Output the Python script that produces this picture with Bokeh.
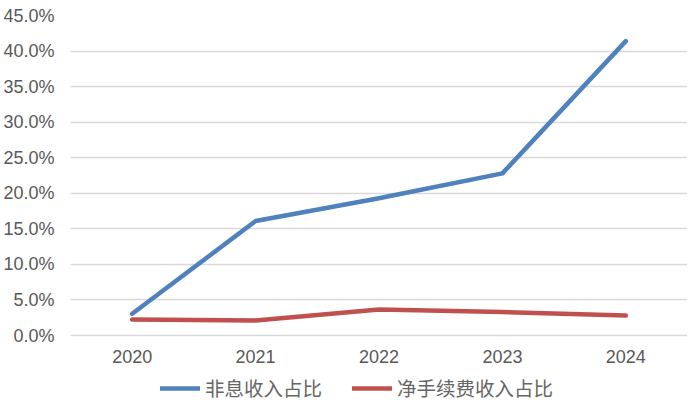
from bokeh.plotting import figure
from bokeh.models import (Range1d, FixedTicker, NumeralTickFormatter, Legend, LegendItem)
from bokeh.embed import file_html
from bokeh.resources import INLINE

years = ["2020", "2021", "2022", "2023", "2024"]
non_interest_share = [0.0305, 0.161, 0.193, 0.228, 0.414]
net_fee_share = [0.0225, 0.021, 0.0365, 0.033, 0.028]
series_names = ["非息收入占比", "净手续费收入占比"]
y_ticks = [0.0, 0.05, 0.10, 0.15, 0.20, 0.25, 0.30, 0.35, 0.40, 0.45]

p = figure(width=688, height=403, x_range=years, y_range=Range1d(-0.0956, 0.45),
           output_backend="svg", toolbar_location=None,
           min_border_left=68, min_border_right=1, min_border_top=15, min_border_bottom=0)
p.x_range.range_padding = 0
p.outline_line_color = None
p.background_fill_color = "white"
p.border_fill_color = "white"

r1 = p.line(years, non_interest_share, line_color="#4F81BD", line_width=4.5,
            line_join="round", line_cap="round")
r2 = p.line(years, net_fee_share, line_color="#C0504D", line_width=4.5,
            line_join="round", line_cap="round")

p.xgrid.grid_line_color = None
p.ygrid.grid_line_color = "#D9D9D9"
p.ygrid.grid_line_width = 1.5
p.yaxis.ticker = FixedTicker(ticks=y_ticks)
p.yaxis.formatter = NumeralTickFormatter(format="0.0%")
p.xaxis.fixed_location = 0

for ax in (p.xaxis[0], p.yaxis[0]):
    ax.axis_line_color = None
    ax.major_tick_line_color = None
    ax.major_tick_out = 0
    ax.major_tick_in = 0
    ax.minor_tick_line_color = None
    ax.major_label_text_color = "#595959"
    ax.major_label_text_font = "Liberation Sans"
    ax.major_label_text_font_size = "18px"
p.yaxis.major_label_standoff = 16
p.xaxis.major_label_standoff = 14

legend = Legend(items=[LegendItem(label=series_names[0], renderers=[r1]),
                       LegendItem(label=series_names[1], renderers=[r2])],
                orientation="horizontal", location=(90, 1),
                glyph_width=40, glyph_height=20, label_standoff=5, spacing=30,
                padding=0, margin=0, border_line_color=None, background_fill_alpha=0,
                label_text_font="Noto Sans CJK SC", label_text_font_size="19.5px",
                label_text_color="#666666", label_height=20)
p.add_layout(legend, "center")

open("out.html", "w").write(file_html(p, INLINE))
